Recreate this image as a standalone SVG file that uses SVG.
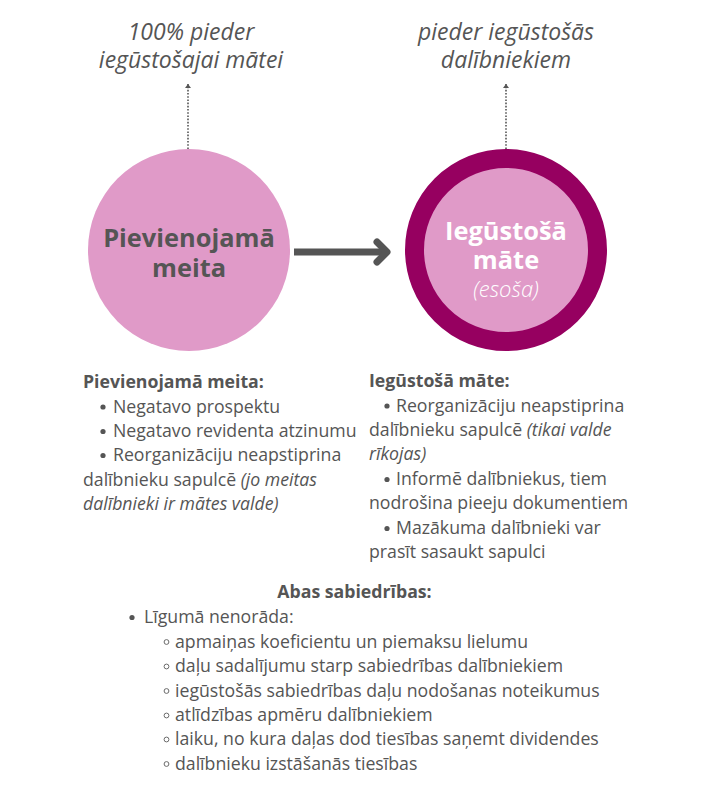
<svg xmlns="http://www.w3.org/2000/svg" width="713" height="799" viewBox="0 0 713 799">
  <style>
    text { font-family: "Open Sans", "Noto Sans", "DejaVu Sans", sans-serif; fill: #555555; }
    .title { font-size: 23px; font-style: italic; font-weight: normal; text-anchor: middle; }
    .node { font-size: 25.4px; font-weight: bold; text-anchor: middle; }
    .body { font-size: 17.7px; }
    .b { font-weight: bold; }
    .i { font-style: italic; }
    .dot { fill: #555555; }
    .ring { fill: none; stroke: #6a6a6a; stroke-width: 1; }
    .dotted { stroke: #555555; stroke-width: 1.6; stroke-dasharray: 1.6 1.6; fill: none; }
  </style>
  <defs>
    <marker id="tip" markerWidth="8" markerHeight="8" refX="4" refY="4" orient="auto" markerUnits="userSpaceOnUse">
      <path d="M0,1 L4,4 L0,7 Z" fill="#555555"/>
    </marker>
  </defs>
  <rect width="713" height="799" fill="#ffffff"/>

  <g id="label-meita-owner">
    <text class="title" x="191" y="40">100% pieder</text>
    <text class="title" x="191" y="68">iegūstošajai mātei</text>
  </g>
  <g id="label-mate-owner">
    <text class="title" x="506" y="40">pieder iegūstošās</text>
    <text class="title" x="506" y="68">dalībniekiem</text>
  </g>

  <g id="connectors">
    <line class="dotted" x1="188" y1="149" x2="188" y2="84" marker-end="url(#tip)"/>
    <line class="dotted" x1="506" y1="149" x2="506" y2="84" marker-end="url(#tip)"/>
    <line x1="294" y1="252" x2="384" y2="252" stroke="#555555" stroke-width="7"/>
    <path d="M377,242 L387,252 L377,262" fill="none" stroke="#555555" stroke-width="7" stroke-linecap="round" stroke-linejoin="round"/>
  </g>

  <g id="node-meita">
    <circle cx="189" cy="250" r="101" fill="#e09ac8"/>
    <text class="node" x="189" y="247">Pievienojamā</text>
    <text class="node" x="189" y="277">meita</text>
  </g>

  <g id="node-mate">
    <circle cx="506" cy="250" r="91.5" fill="#e09ac8" stroke="#960060" stroke-width="19"/>
    <text class="node" x="506" y="240" style="fill:#ffffff">Iegūstošā</text>
    <text class="node" x="506" y="269" style="fill:#ffffff">māte</text>
    <text x="506" y="297" style="fill:#ffffff;font-size:22px;font-style:italic;font-weight:300;text-anchor:middle">(esoša)</text>
  </g>

  <g id="notes-meita" class="body">
    <text class="body b" x="83" y="388">Pievienojamā meita:</text>
    <circle class="dot" cx="103" cy="407" r="2.6"/>
    <text class="body" x="113" y="412.5">Negatavo prospektu</text>
    <circle class="dot" cx="103" cy="431.5" r="2.6"/>
    <text class="body" x="113" y="437">Negatavo revidenta atzinumu</text>
    <circle class="dot" cx="103" cy="455.5" r="2.6"/>
    <text class="body" x="113" y="461">Reorganizāciju neapstiprina</text>
    <text class="body" x="83" y="485.5">dalībnieku sapulcē <tspan class="i">(jo meitas</tspan></text>
    <text class="body i" x="83" y="510">dalībnieki ir mātes valde)</text>
  </g>

  <g id="notes-mate" class="body">
    <text class="body b" x="369" y="387">Iegūstošā māte:</text>
    <circle class="dot" cx="387" cy="406" r="2.6"/>
    <text class="body" x="396" y="411.5">Reorganizāciju neapstiprina</text>
    <text class="body" x="369" y="436">dalībnieku sapulcē <tspan class="i">(tikai valde</tspan></text>
    <text class="body i" x="369" y="460">rīkojas)</text>
    <circle class="dot" cx="387" cy="479.5" r="2.6"/>
    <text class="body" x="396" y="485">Informē dalībniekus, tiem</text>
    <text class="body" x="369" y="509">nodrošina pieeju dokumentiem</text>
    <circle class="dot" cx="387" cy="528.5" r="2.6"/>
    <text class="body" x="396" y="534">Mazākuma dalībnieki var</text>
    <text class="body" x="369" y="558">prasīt sasaukt sapulci</text>
  </g>

  <g id="notes-both" class="body">
    <text class="body b" x="354.5" y="598" style="text-anchor:middle">Abas sabiedrības:</text>
    <circle class="dot" cx="132" cy="617.5" r="2.6"/>
    <text class="body" x="144" y="623">Līgumā nenorāda:</text>
    <circle class="ring" cx="166.5" cy="642" r="2.4"/>
    <text class="body" x="175" y="647.5">apmaiņas koeficientu un piemaksu lielumu</text>
    <circle class="ring" cx="166.5" cy="666.5" r="2.4"/>
    <text class="body" x="175" y="672">daļu sadalījumu starp sabiedrības dalībniekiem</text>
    <circle class="ring" cx="166.5" cy="691" r="2.4"/>
    <text class="body" x="175" y="696.5">iegūstošās sabiedrības daļu nodošanas noteikumus</text>
    <circle class="ring" cx="166.5" cy="715.5" r="2.4"/>
    <text class="body" x="175" y="721">atlīdzības apmēru dalībniekiem</text>
    <circle class="ring" cx="166.5" cy="739.5" r="2.4"/>
    <text class="body" x="175" y="745">laiku, no kura daļas dod tiesības saņemt dividendes</text>
    <circle class="ring" cx="166.5" cy="764" r="2.4"/>
    <text class="body" x="175" y="769.5">dalībnieku izstāšanās tiesības</text>
  </g>
</svg>
